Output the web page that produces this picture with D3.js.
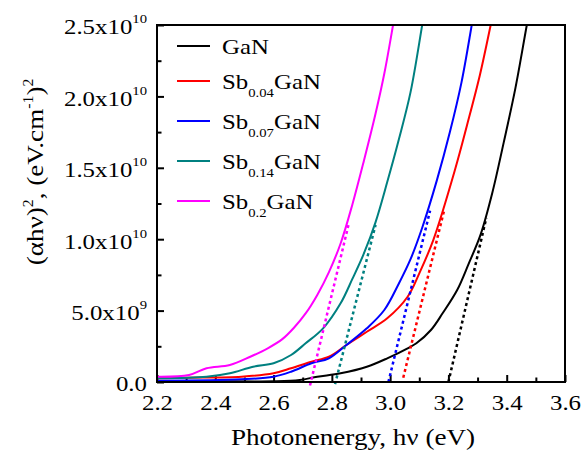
<!DOCTYPE html>
<meta charset="utf-8">
<script src="https://d3js.org/d3.v7.min.js"></script>
<style>
  body { margin: 0; background: #fff; }
  text { font-family: "Liberation Serif", "Times New Roman", serif; fill: #000; }
</style>
<div id="my_dataviz"></div>
<script>

    // values, (alpha h nu)^2 in units of 1e9
    const energyGaN = [2.20, 2.40, 2.60, 2.69, 2.75, 2.83, 2.92, 2.99, 3.06, 3.09, 3.14, 3.18, 3.23, 3.27, 3.31, 3.35, 3.39, 3.43, 3.469, 3.49];
    const valueGaN  = [0.05, 0.05, 0.05, 0.14, 0.37, 0.61, 1.07, 1.66, 2.36, 2.71, 3.64, 4.81, 6.44, 8.31, 10.3, 13.2, 16.8, 20.6, 25.0, 27.3];

    const energySb004 = [2.20, 2.30, 2.49, 2.60, 2.66, 2.73, 2.79, 2.85, 2.92, 2.99, 3.06, 3.10, 3.148, 3.223, 3.264, 3.308, 3.345, 3.36];
    const valueSb004  = [0.26, 0.30, 0.37, 0.61, 0.96, 1.42, 1.77, 2.59, 3.52, 4.46, 5.97, 7.61, 9.94, 14.9, 18.0, 21.5, 25.0, 26.5];

    const energySb007 = [2.20, 2.49, 2.60, 2.66, 2.73, 2.79, 2.85, 2.92, 2.98, 3.03, 3.07, 3.11, 3.16, 3.205, 3.245, 3.28, 3.295];
    const valueSb007  = [0.09, 0.19, 0.37, 0.72, 1.31, 1.66, 2.59, 3.76, 5.04, 6.90, 8.60, 10.8, 14.1, 17.5, 21.0, 25.0, 26.8];

    const energySb014 = [2.20, 2.37, 2.45, 2.53, 2.60, 2.66, 2.71, 2.77, 2.83, 2.87, 2.91, 2.95, 2.99, 3.03, 3.07, 3.11, 3.125];
    const valueSb014  = [0.26, 0.37, 0.61, 1.07, 1.31, 1.89, 2.71, 3.76, 5.51, 7.20, 9.00, 11.2, 14.0, 17.0, 20.3, 25.0, 26.8];

    const energySb02 = [2.20, 2.31, 2.37, 2.45, 2.52, 2.58, 2.63, 2.67, 2.71, 2.75, 2.79, 2.83, 2.87, 2.91, 2.95, 2.98, 3.01, 3.02];
    const valueSb02  = [0.37, 0.49, 0.96, 1.19, 1.77, 2.36, 3.00, 3.80, 4.80, 6.10, 7.70, 9.70, 12.4, 15.5, 18.8, 21.6, 25.0, 26.2];

    // dotted linear fits: [start energy, start value, end energy, end value]
    const fitGaN   = [3.200, 0.00, 3.330, 11.5];
    const fitSb004 = [3.045, 0.30, 3.185, 12.0];
    const fitSb007 = [2.994, 0.00, 3.137, 12.0];
    const fitSb014 = [2.811, -0.15, 2.950, 11.0];
    const fitSb02  = [2.725, -0.25, 2.857, 11.0];

    const subscripts = ["", "0.04", "0.07", "0.14", "0.2"];
    const colors = ["#000000", "#ff0000", "#0000ff", "#008080", "#ff00ff"];

    const xTicks = [2.2, 2.4, 2.6, 2.8, 3.0, 3.2, 3.4, 3.6];
    const xMinor = [2.3, 2.5, 2.7, 2.9, 3.1, 3.3, 3.5];
    const yTicks = [0, 5, 10, 15, 20, 25];
    const yMinor = [2.5, 7.5, 12.5, 17.5, 22.5];
    const yTickMantissa = ["0.0", "5.0", "1.0", "1.5", "2.0", "2.5"];
    const yTickExponent = ["", "9", "10", "10", "10", "10"];

    const series = [
        {E: energyGaN,   V: valueGaN,   fit: fitGaN},
        {E: energySb004, V: valueSb004, fit: fitSb004},
        {E: energySb007, V: valueSb007, fit: fitSb007},
        {E: energySb014, V: valueSb014, fit: fitSb014},
        {E: energySb02,  V: valueSb02,  fit: fitSb02}
    ];

    // the lettering in the picture is a bit wider than Liberation Serif
    const stretch = "scale(1.13,1)";

    const margin = {top: 25, right: 18, bottom: 71, left: 157},
        width = 583 - margin.left - margin.right,
        height = 453 - margin.top - margin.bottom;

    const root = d3.select("#my_dataviz")
        .append("svg")
        .attr("width", 583)
        .attr("height", 453);

    const svg = root.append("g")
        .attr("transform", `translate(${margin.left},${margin.top})`);

    const x = d3.scaleLinear().domain([2.2, 3.6]).range([0, width]);
    const y = d3.scaleLinear().domain([0, 25]).range([height, 0]);

    svg.append("clipPath").attr("id", "clip")
        .append("rect").attr("x", 0).attr("y", 0).attr("width", width).attr("height", height + 6);

    // minor ticks (inward)
    svg.append("g")
        .attr("transform", `translate(0,${height})`)
        .call(d3.axisBottom(x).tickValues(xMinor).tickSize(-4.5).tickFormat(""))
        .call(g => g.select(".domain").remove());
    svg.append("g")
        .call(d3.axisLeft(y).tickValues(yMinor).tickSize(-4.5).tickFormat(""))
        .call(g => g.select(".domain").remove());

    // X axis
    svg.append("g")
        .attr("transform", `translate(0,${height})`)
        .call(d3.axisBottom(x).tickValues(xTicks).tickSize(-7).tickFormat(d3.format(".1f")))
        .call(g => g.select(".domain").remove())
        .selectAll("text")
        .attr("y", 28)
        .attr("dy", 0)
        .attr("font-size", 22)
        .attr("transform", stretch);

    // Y axis
    svg.append("g")
        .call(d3.axisLeft(y).tickValues(yTicks).tickSize(-7).tickFormat(""))
        .call(g => g.select(".domain").remove())
        .selectAll("text")
        .attr("x", -10 / 1.13)
        .attr("dy", "0.4em")
        .attr("font-size", 22)
        .attr("transform", stretch)
        .each(function(d, i) {
            const t = d3.select(this);
            t.append("tspan").text(yTickMantissa[i] + (yTickExponent[i] ? "x10" : ""));
            if (yTickExponent[i]) {
                t.append("tspan").attr("dy", -11).attr("font-size", 13).text(yTickExponent[i]);
            }
        });

    svg.selectAll(".tick line").attr("stroke-width", 2);

    // curves
    const line = d3.line()
        .x(d => x(d[0]))
        .y(d => y(d[1]))
        .curve(d3.curveCatmullRom.alpha(0.5));

    const plot = svg.append("g").attr("clip-path", "url(#clip)");

    series.forEach((s, i) => {
        plot.append("path")
            .datum(s.E.map((e, k) => [e, s.V[k]]))
            .attr("fill", "none")
            .attr("stroke", colors[i])
            .attr("stroke-width", 2)
            .attr("stroke-linejoin", "round")
            .attr("d", line);
    });

    // linear fits
    series.forEach((s, i) => {
        svg.append("line")
            .attr("x1", x(s.fit[0])).attr("y1", y(s.fit[1]))
            .attr("x2", x(s.fit[2])).attr("y2", y(s.fit[3]))
            .attr("stroke", colors[i])
            .attr("stroke-width", 2.5)
            .attr("stroke-dasharray", "3,3");
    });

    // frame
    svg.append("rect")
        .attr("width", width)
        .attr("height", height)
        .attr("fill", "none")
        .attr("stroke", "#000")
        .attr("stroke-width", 2);

    // legend
    const legendY = i => i === 0 ? 46 : 41 + 40 * i;
    subscripts.forEach((sub, i) => {
        root.append("line")
            .attr("x1", 177).attr("x2", 210)
            .attr("y1", legendY(i)).attr("y2", legendY(i))
            .attr("stroke", colors[i])
            .attr("stroke-width", 2);
        const t = root.append("g")
            .attr("transform", `translate(222,${legendY(i) + 8})`)
            .append("text")
            .attr("font-size", 22)
            .attr("transform", stretch);
        if (sub) {
            t.append("tspan").text("Sb");
            t.append("tspan").attr("dy", 8).attr("font-size", 13).text(sub);
            t.append("tspan").attr("dy", -8).text("GaN");
        } else {
            t.append("tspan").text("GaN");
        }
    });

    // axis titles
    root.append("g")
        .attr("transform", "translate(353,445)")
        .append("text")
        .attr("text-anchor", "middle")
        .attr("font-size", 24)
        .attr("transform", stretch)
        .text("Photonenergy, h\u03bd (eV)");

    const yTitle = root.append("g")
        .attr("transform", "translate(43,172) rotate(-90)")
        .append("text")
        .attr("text-anchor", "middle")
        .attr("font-size", 24)
        .attr("transform", stretch);
    yTitle.append("tspan").text("(\u03b1h\u03bd)");
    yTitle.append("tspan").attr("dy", -10).attr("font-size", 14).text("2");
    yTitle.append("tspan").attr("dy", 10).text(", (eV.cm");
    yTitle.append("tspan").attr("dy", -10).attr("font-size", 14).text("-1");
    yTitle.append("tspan").attr("dy", 10).text(")");
    yTitle.append("tspan").attr("dy", -10).attr("font-size", 14).text("2");

</script>
